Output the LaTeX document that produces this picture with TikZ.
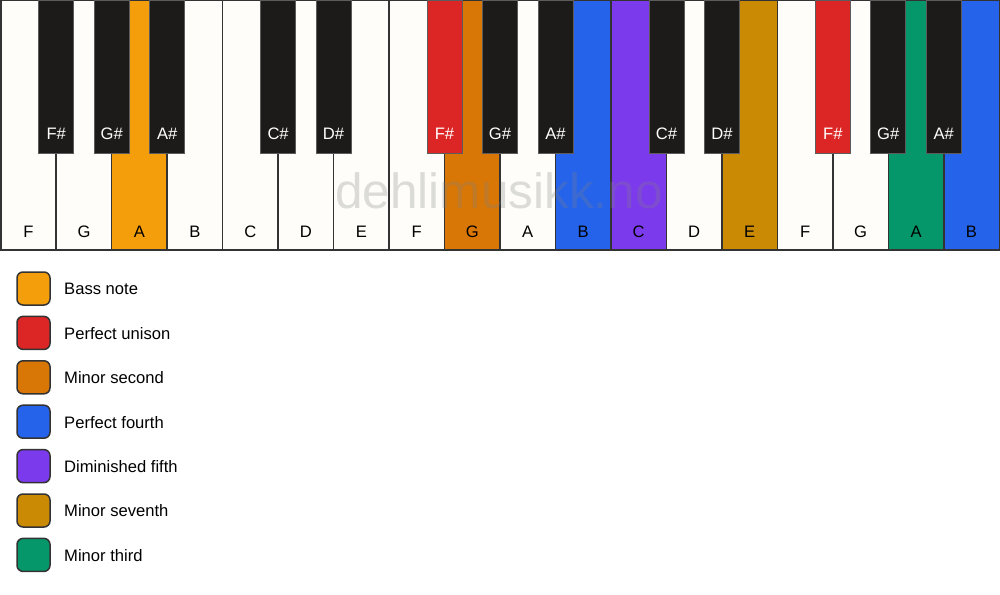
\documentclass[tikz,border=0pt]{standalone}
\usepackage{fontspec}
\setmainfont{Liberation Sans}
\definecolor{keyw}{HTML}{FEFDF9}
\definecolor{keyb}{HTML}{1C1B19}
\definecolor{edge}{HTML}{333333}
\definecolor{bass}{HTML}{F59E0B}
\definecolor{unison}{HTML}{DC2626}
\definecolor{minsec}{HTML}{D97706}
\definecolor{pfourth}{HTML}{2563EB}
\definecolor{dimfifth}{HTML}{7C3AED}
\definecolor{minsev}{HTML}{CA8A04}
\definecolor{minthird}{HTML}{059669}
\begin{document}
\begin{tikzpicture}[x=1pt,y=-1pt,
  font=\fontsize{16.6}{19}\selectfont,
  wkey/.style={draw=edge, line width=1.5pt, minimum width=55.472pt, minimum height=249.25pt, inner sep=0pt, outer sep=0pt, anchor=north west},
  bkey/.style={draw=edge!80!white, line width=0.8pt, minimum width=35pt, minimum height=153pt, inner sep=0pt, outer sep=0pt, anchor=north},
  wlabel/.style={anchor=base, inner sep=0pt, text=black},
  blabel/.style={anchor=base, inner sep=0pt, text=white},
  legbox/.style={draw=edge, line width=1.5pt, rounded corners=6pt, minimum size=33pt, inner sep=0pt},
  legtext/.style={anchor=base west, inner sep=0pt, text=black},
  wmark/.style={anchor=base, inner sep=0pt, text=gray, text opacity=0.27, font=\fontsize{49.5}{55}\selectfont}
]
\useasboundingbox (0,0) rectangle (1000,594);
\fill[white] (0,0) rectangle (1000,594);
% white keys
\foreach \n/\c [count=\i from 0] in {F/keyw,G/keyw,A/bass,B/keyw,C/keyw,D/keyw,E/keyw,F/keyw,G/minsec,A/keyw,B/pfourth,C/dimfifth,D/keyw,E/minsev,F/keyw,G/keyw,A/minthird,B/pfourth}{
  \node[wkey, fill=\c] (w\i) at ({0.75+\i*55.472},0.75) {};
}
% watermark
\node[wmark] (wm) at (499,208) {dehlimusikk.no};
% white key labels
\foreach \n [count=\i from 0] in {F,G,A,B,C,D,E,F,G,A,B,C,D,E,F,G,A,B}{
  \node[wlabel] (wl\i) at ({0.75+(\i+0.5)*55.472},237) {\n};
}
% black keys
\foreach \b/\n/\c in {1/F/keyb,2/G/keyb,3/A/keyb,5/C/keyb,6/D/keyb,8/F/unison,9/G/keyb,10/A/keyb,12/C/keyb,13/D/keyb,15/F/unison,16/G/keyb,17/A/keyb}{
  \node[bkey, fill=\c] (b\b) at ({0.75+\b*55.472},0) {};
  \node[blabel] (bl\b) at ({0.75+\b*55.472},139) {\n\#};
}
% legend
\foreach \c/\t [count=\k from 0] in {bass/Bass note,unison/Perfect unison,minsec/Minor second,pfourth/Perfect fourth,dimfifth/Diminished fifth,minsev/Minor seventh,minthird/Minor third}{
  \node[legbox, fill=\c] (lb\k) at (33.5,{288.5+\k*44.4}) {};
  \node[legtext] (lt\k) at (64,{294.8+\k*44.4}) {\t};
}
\end{tikzpicture}
\end{document}
